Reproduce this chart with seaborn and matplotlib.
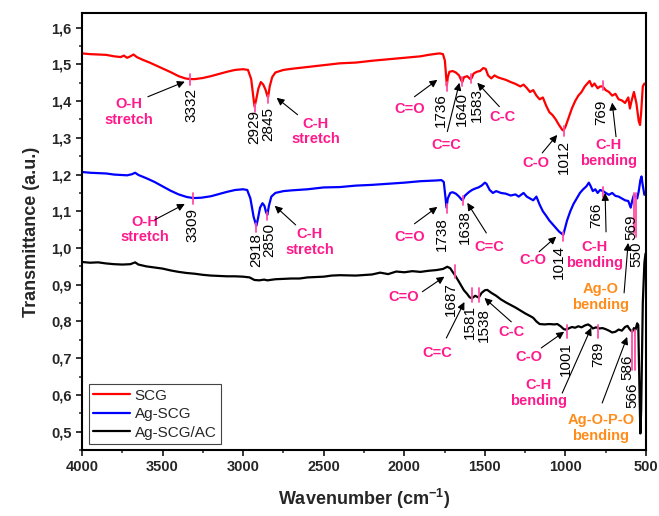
import numpy as np
import pandas as pd
import matplotlib
matplotlib.use("Agg")
import matplotlib.pyplot as plt
from matplotlib.ticker import FuncFormatter, MultipleLocator
import seaborn as sns

# ---- spectra ----
scg_wn = [4000, 3950, 3900, 3850, 3800, 3760, 3740, 3720, 3700, 3680, 3660, 3620, 3580, 3540,
          3500, 3450, 3400, 3360, 3332, 3300, 3250, 3200, 3150, 3100, 3050, 3000, 2970, 2950,
          2935, 2929, 2920, 2905, 2890, 2875, 2860, 2850, 2845, 2835, 2820, 2800, 2750, 2700,
          2600, 2500, 2400, 2300, 2200, 2100, 2000, 1900, 1850, 1800, 1780, 1760, 1748, 1740,
          1736, 1730, 1720, 1700, 1680, 1660, 1645, 1640, 1630, 1610, 1590, 1583, 1570, 1550,
          1530, 1510, 1495, 1480, 1460, 1440, 1420, 1400, 1370, 1340, 1310, 1280, 1260, 1240,
          1220, 1200, 1180, 1160, 1140, 1120, 1100, 1080, 1060, 1040, 1020, 1012, 1000, 980,
          960, 940, 920, 900, 880, 860, 850, 835, 820, 800, 785, 769, 750, 730, 710, 690, 670,
          650, 630, 610, 600, 590, 575, 560, 545, 537, 530, 520, 510, 500]
scg_t = [1.530, 1.528, 1.527, 1.526, 1.522, 1.520, 1.524, 1.518, 1.522, 1.527, 1.520, 1.512,
         1.505, 1.497, 1.489, 1.479, 1.468, 1.462, 1.460, 1.460, 1.463, 1.468, 1.474, 1.480,
         1.485, 1.487, 1.485, 1.460, 1.405, 1.385, 1.402, 1.435, 1.452, 1.445, 1.430, 1.414,
         1.411, 1.440, 1.465, 1.478, 1.485, 1.488, 1.493, 1.498, 1.503, 1.505, 1.510, 1.514,
         1.518, 1.522, 1.526, 1.529, 1.530, 1.528, 1.510, 1.465, 1.442, 1.465, 1.480, 1.482,
         1.478, 1.470, 1.455, 1.452, 1.465, 1.468, 1.460, 1.462, 1.475, 1.480, 1.482, 1.490,
         1.488, 1.470, 1.462, 1.470, 1.465, 1.462, 1.458, 1.452, 1.447, 1.440, 1.445, 1.436,
         1.425, 1.430, 1.415, 1.405, 1.410, 1.388, 1.370, 1.362, 1.350, 1.335, 1.322, 1.320,
         1.330, 1.355, 1.380, 1.400, 1.415, 1.425, 1.440, 1.450, 1.455, 1.440, 1.448, 1.435,
         1.440, 1.440, 1.430, 1.425, 1.415, 1.420, 1.405, 1.402, 1.395, 1.410, 1.380, 1.400,
         1.425, 1.395, 1.345, 1.335, 1.370, 1.440, 1.448, 1.445]

agscg_wn = [4000, 3950, 3900, 3850, 3800, 3760, 3720, 3690, 3670, 3650, 3600, 3550, 3500, 3450,
            3400, 3350, 3309, 3260, 3200, 3150, 3100, 3050, 3000, 2975, 2955, 2935, 2918, 2908,
            2895, 2880, 2868, 2858, 2850, 2840, 2825, 2800, 2750, 2700, 2600, 2500, 2400, 2300,
            2200, 2100, 2000, 1900, 1850, 1800, 1770, 1755, 1745, 1738, 1730, 1715, 1700, 1680,
            1660, 1645, 1638, 1625, 1600, 1580, 1560, 1540, 1520, 1500, 1490, 1470, 1450, 1430,
            1400, 1370, 1340, 1310, 1290, 1260, 1240, 1220, 1200, 1180, 1160, 1140, 1120, 1100,
            1080, 1060, 1040, 1020, 1014, 1005, 990, 970, 950, 930, 910, 890, 870, 855, 845, 830,
            815, 800, 785, 766, 750, 730, 710, 690, 670, 650, 630, 610, 595, 585, 575, 565, 555,
            545, 535, 528, 520, 510, 500]
agscg_t = [1.207, 1.205, 1.204, 1.203, 1.200, 1.199, 1.198, 1.201, 1.205, 1.199, 1.190, 1.180,
           1.168, 1.156, 1.146, 1.139, 1.136, 1.137, 1.141, 1.147, 1.153, 1.158, 1.160, 1.158,
           1.135, 1.085, 1.060, 1.080, 1.110, 1.122, 1.115, 1.098, 1.090, 1.115, 1.140, 1.150,
           1.155, 1.157, 1.160, 1.165, 1.166, 1.170, 1.172, 1.175, 1.178, 1.182, 1.183, 1.184,
           1.185, 1.180, 1.140, 1.110, 1.135, 1.150, 1.152, 1.148, 1.140, 1.132, 1.130, 1.142,
           1.152, 1.158, 1.162, 1.165, 1.170, 1.178, 1.175, 1.158, 1.150, 1.155, 1.150, 1.148,
           1.143, 1.146, 1.140, 1.150, 1.140, 1.135, 1.130, 1.140, 1.118, 1.100, 1.088, 1.075,
           1.065, 1.055, 1.045, 1.038, 1.035, 1.050, 1.075, 1.100, 1.120, 1.135, 1.150, 1.160,
           1.168, 1.178, 1.170, 1.155, 1.160, 1.150, 1.158, 1.155, 1.150, 1.145, 1.150, 1.142,
           1.140, 1.135, 1.130, 1.128, 1.110, 1.130, 1.145, 1.140, 1.135, 1.155, 1.185, 1.195,
           1.170, 1.145, 1.150]

agscgac_wn = [4000, 3950, 3900, 3850, 3800, 3750, 3700, 3670, 3650, 3600, 3550, 3500, 3450,
              3400, 3350, 3300, 3250, 3200, 3150, 3100, 3050, 3000, 2960, 2930, 2900, 2870,
              2850, 2800, 2750, 2700, 2650, 2600, 2500, 2450, 2400, 2300, 2200, 2150, 2100,
              2050, 2000, 1950, 1900, 1850, 1800, 1760, 1733, 1715, 1700, 1687, 1670, 1650,
              1630, 1610, 1595, 1581, 1560, 1538, 1520, 1500, 1485, 1460, 1430, 1400, 1370,
              1340, 1310, 1280, 1250, 1220, 1200, 1180, 1160, 1130, 1100, 1070, 1050, 1030,
              1010, 1001, 985, 960, 940, 920, 900, 880, 860, 845, 830, 810, 789, 770, 750, 730,
              710, 690, 670, 650, 630, 615, 600, 586, 575, 565, 555, 548, 540, 535, 530, 520,
              510, 503, 500]
agscgac_t = [0.962, 0.960, 0.961, 0.958, 0.956, 0.955, 0.956, 0.961, 0.955, 0.950, 0.947,
             0.944, 0.939, 0.935, 0.932, 0.930, 0.927, 0.925, 0.924, 0.923, 0.923, 0.922,
             0.920, 0.913, 0.912, 0.914, 0.912, 0.915, 0.916, 0.917, 0.917, 0.920, 0.922,
             0.925, 0.926, 0.925, 0.928, 0.933, 0.929, 0.936, 0.934, 0.937, 0.935, 0.938,
             0.940, 0.943, 0.949, 0.945, 0.935, 0.927, 0.915, 0.900, 0.885, 0.875, 0.866,
             0.863, 0.870, 0.865, 0.878, 0.885, 0.886, 0.878, 0.870, 0.860, 0.852, 0.845,
             0.838, 0.830, 0.822, 0.815, 0.810, 0.800, 0.793, 0.792, 0.793, 0.792, 0.793,
             0.787, 0.779, 0.778, 0.780, 0.785, 0.783, 0.787, 0.784, 0.789, 0.792, 0.788,
             0.781, 0.784, 0.781, 0.782, 0.779, 0.775, 0.770, 0.772, 0.778, 0.775, 0.785,
             0.788, 0.778, 0.772, 0.782, 0.778, 0.795, 0.790, 0.600, 0.495, 0.560, 0.850,
             0.960, 0.985, 0.985]

series_names = ["SCG", "Ag-SCG", "Ag-SCG/AC"]
series_colors = ["#ff0000", "#0000ff", "#000000"]

# ---- peak annotations ----
# peak labels (text, x, top of text)
peak_labels = [
    ("3332", 3320, 1.437), ("2929", 2928, 1.375), ("2845", 2843, 1.385), ("1736", 1770, 1.423),
    ("1640", 1640, 1.426), ("1583", 1547, 1.437), ("1012", 1008, 1.295), ("769", 775, 1.404),
    ("3309", 3315, 1.109), ("2918", 2916, 1.041), ("2850", 2835, 1.069), ("1738", 1764, 1.085),
    ("1638", 1627, 1.104), ("1014", 1042, 1.009), ("766", 810, 1.123), ("569", 593, 1.090),
    ("550", 562, 1.017),
    ("1687", 1708, 0.908), ("1581", 1590, 0.845), ("1538", 1508, 0.837), ("1001", 995, 0.744),
    ("789", 797, 0.744), ("586", 617, 0.709), ("566", 586, 0.635),
]
# pink peak marks (wavenumber, low, high)
peak_marks = [
    (3332, 1.445, 1.475), (2929, 1.370, 1.392), (2845, 1.395, 1.417), (1736, 1.428, 1.452),
    (1640, 1.440, 1.465), (1583, 1.450, 1.475), (1012, 1.305, 1.332), (769, 1.430, 1.455),
    (3309, 1.120, 1.150), (2918, 1.045, 1.068), (2850, 1.075, 1.098), (1738, 1.095, 1.120),
    (1638, 1.118, 1.142), (1014, 1.020, 1.045), (766, 1.140, 1.165), (574, 1.040, 1.150),
    (562, 1.030, 1.150),
    (1687, 0.919, 0.954), (1581, 0.853, 0.892), (1538, 0.853, 0.892), (990, 0.755, 0.790),
    (795, 0.755, 0.790), (587, 0.668, 0.777), (568, 0.668, 0.777),
]
# group labels (text, x, y, colour) and arrows (tail -> head)
PINK = "#ff1a8c"
ORANGE = "#ff8c1a"
group_labels = [
    ("O-H\nstretch", 3709, 1.371, PINK), ("C-H\nstretch", 2550, 1.317, PINK),
    ("C=O", 1968, 1.379, PINK), ("C=C", 1739, 1.281, PINK), ("C-C", 1392, 1.357, PINK),
    ("C-O", 1181, 1.232, PINK), ("C-H\nbending", 735, 1.259, PINK),
    ("O-H\nstretch", 3610, 1.050, PINK), ("C-H\nstretch", 2588, 1.017, PINK),
    ("C=O", 1968, 1.031, PINK), ("C=C", 1472, 1.003, PINK), ("C-O", 1200, 0.968, PINK),
    ("C-H\nbending", 822, 0.981, PINK), ("Ag-O\nbending", 779, 0.867, ORANGE),
    ("C=O", 2005, 0.867, PINK), ("C=C", 1795, 0.714, PINK), ("C-C", 1336, 0.772, PINK),
    ("C-O", 1225, 0.704, PINK), ("C-H\nbending", 1169, 0.605, PINK),
    ("Ag-O-P-O\nbending", 779, 0.510, ORANGE),
]
arrows = [
    ((3591, 1.412), (3362, 1.453)), ((2662, 1.363), (2792, 1.409)),
    ((1937, 1.412), (1795, 1.458)), ((1733, 1.317), (1658, 1.450)),
    ((1410, 1.385), (1547, 1.450)), ((1144, 1.259), (1051, 1.308)),
    ((686, 1.303), (710, 1.396)),
    ((3548, 1.077), (3362, 1.120)), ((2674, 1.063), (2804, 1.115)),
    ((1937, 1.066), (1795, 1.112)), ((1491, 1.041), (1609, 1.123)),
    ((1163, 0.990), (1057, 1.031)), ((748, 1.044), (754, 1.150)),
    ((636, 0.878), (611, 1.014)),
    ((1888, 0.881), (1751, 0.922)), ((1739, 0.755), (1627, 0.853)),
    ((1336, 0.799), (1503, 0.864)), ((1150, 0.728), (1008, 0.772)),
    ((1020, 0.605), (840, 0.783)), ((772, 0.578), (617, 0.758)),
]


def main():
    sns.set_style("ticks")
    plt.rcParams["font.family"] = ["Liberation Sans", "DejaVu Sans"]
    plt.rcParams["mathtext.fontset"] = "custom"
    plt.rcParams["mathtext.rm"] = "Liberation Sans:bold"
    plt.rcParams["mathtext.bf"] = "Liberation Sans:bold"

    df = pd.concat([
        pd.DataFrame({"wn": scg_wn, "t": scg_t, "sample": "SCG"}),
        pd.DataFrame({"wn": agscg_wn, "t": agscg_t, "sample": "Ag-SCG"}),
        pd.DataFrame({"wn": agscgac_wn, "t": agscgac_t, "sample": "Ag-SCG/AC"}),
    ])

    fig = plt.figure(figsize=(6.59, 5.16), dpi=100)
    ax = fig.add_axes([0.1244, 0.1279, 0.8559, 0.8469])

    sns.lineplot(data=df, x="wn", y="t", hue="sample", hue_order=series_names,
                 palette=dict(zip(series_names, series_colors)), lw=1.6,
                 estimator=None, ax=ax)

    for w, lo, hi in peak_marks:
        ax.plot([w, w], [lo, hi], color="#ff4da6", lw=1.3, zorder=3)
    for txt, x, y in peak_labels:
        ax.text(x, y, txt, rotation=90, ha="center", va="top", fontsize=11, color="black")
    for txt, x, y, c in group_labels:
        ax.text(x, y, txt, ha="center", va="center", fontsize=10.5, fontweight="bold",
                color=c, linespacing=1.15)
    for tail, head in arrows:
        ax.annotate("", xy=head, xytext=tail,
                    arrowprops=dict(arrowstyle="-|>", color="black", lw=0.8,
                                    mutation_scale=11, shrinkA=0, shrinkB=0))

    ax.set_xlim(4000, 500)
    ax.set_ylim(0.45, 1.64)
    ax.xaxis.set_major_locator(MultipleLocator(500))
    ax.xaxis.set_minor_locator(MultipleLocator(250))
    ax.yaxis.set_major_locator(MultipleLocator(0.1))
    ax.yaxis.set_minor_locator(MultipleLocator(0.05))
    ax.yaxis.set_major_formatter(FuncFormatter(lambda v, p: f"{v:.1f}".replace(".", ",")))
    ax.xaxis.set_major_formatter(FuncFormatter(lambda v, p: f"{v:.0f}"))
    ax.tick_params(which="major", direction="out", length=4.5, width=1.3,
                   labelsize=10.5, pad=3)
    ax.tick_params(which="minor", direction="out", length=2.5, width=1.1)
    for lab in ax.get_xticklabels() + ax.get_yticklabels():
        lab.set_fontweight("bold")
    for sp in ax.spines.values():
        sp.set_linewidth(1.5)
        sp.set_color("black")

    ax.set_xlabel(r"Wavenumber (cm$^{-1}$)", fontsize=13, fontweight="bold", labelpad=9)
    ax.set_ylabel("Transmittance (a.u.)", fontsize=13, fontweight="bold", labelpad=8)

    handles = ax.get_lines()[:3]
    leg = ax.legend(handles, series_names, loc="lower left", bbox_to_anchor=(0.012, 0.013),
                    fontsize=11, frameon=True, fancybox=False, framealpha=1,
                    edgecolor="#444444", handlelength=2.4, handletextpad=0.3,
                    borderpad=0.3, labelspacing=0.3, borderaxespad=0)
    leg.get_frame().set_linewidth(0.8)

    fig.savefig("out.png", dpi=100)
    plt.close(fig)


if __name__ == "__main__":
    main()
